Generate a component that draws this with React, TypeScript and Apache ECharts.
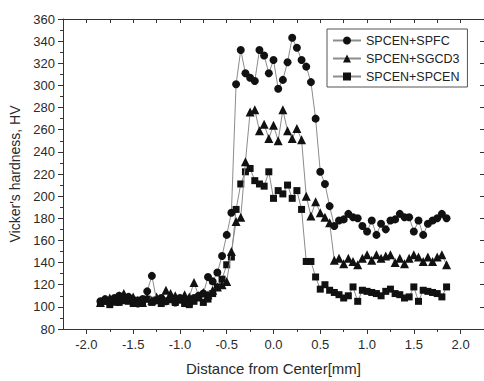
import React, { useEffect, useRef } from "react";
import * as echarts from "echarts";

const xs = [
  -1.85, -1.8, -1.75, -1.7, -1.65, -1.6, -1.55, -1.5, -1.45, -1.4,
  -1.35, -1.3, -1.25, -1.2, -1.15, -1.1, -1.05, -1.0, -0.95, -0.9,
  -0.85, -0.8, -0.75, -0.7, -0.65, -0.6, -0.55, -0.5, -0.45, -0.4,
  -0.35, -0.3, -0.25, -0.2, -0.15, -0.1, -0.05, 0.0, 0.05, 0.1,
  0.15, 0.2, 0.25, 0.3, 0.35, 0.4, 0.45, 0.5, 0.55, 0.6,
  0.65, 0.7, 0.75, 0.8, 0.85, 0.9, 0.95, 1.0, 1.05, 1.1,
  1.15, 1.2, 1.25, 1.3, 1.35, 1.4, 1.45, 1.5, 1.55, 1.6,
  1.65, 1.7, 1.75, 1.8, 1.85,
];

const spfc = [
  105, 107, 104, 108, 110, 106, 109, 105, 103, 107,
  114, 128, 106, 108, 105, 107, 104, 108, 106, 103,
  108, 110, 112, 127, 123, 131, 146, 165, 185, 301,
  332, 311, 307, 304, 332, 327, 311, 323, 297, 305,
  321, 343, 334, 323, 317, 303, 270, 222, 211, 191,
  173, 178, 179, 184, 181, 180, 173, 168, 178, 165,
  175, 170, 178, 179, 184, 181, 181, 168, 178, 165,
  175, 178, 180, 184, 180,
];

const sgcd3 = [
  104, 106, 108, 105, 110, 112, 107, 109, 106, 104,
  108, 106, 109, 107, 115, 112, 110, 108, 111, 109,
  122, 110, 113, 111, 115, 118, 120, 123, 150, 177,
  181, 231, 276, 278, 259, 265, 252, 264, 250, 278,
  259, 252, 261, 251, 200, 182, 195, 185, 181, 176,
  142, 144, 139, 144, 141, 138, 144, 147, 142, 147,
  144, 146, 147, 140, 144, 139, 144, 147, 145, 141,
  145, 141, 145, 147, 138,
];

const spcen = [
  103, 105, 102, 106, 104, 108, 105, 103, 106, 104,
  107, 104, 106, 103, 105, 107, 104, 106, 103, 102,
  105, 108, 104, 107, 112, 118, 125, 138, 145, 188,
  211, 222, 225, 214, 211, 209, 222, 198, 205, 202,
  210, 198, 205, 188, 141, 141, 127, 116, 120, 115,
  113, 111, 108, 110, 118, 105, 115, 114, 113, 112,
  110, 114, 116, 112, 111, 108, 109, 118, 105, 115,
  114, 113, 112, 109, 118,
];

const seriesNames = ["SPCEN+SPFC", "SPCEN+SGCD3", "SPCEN+SPCEN"];
const seriesSymbols = ["circle", "triangle", "rect"];
const seriesSizes = [8, 9, 7];

const xMajorTicks = [-2.0, -1.5, -1.0, -0.5, 0.0, 0.5, 1.0, 1.5, 2.0];
const xMinorTicks = [-1.75, -1.25, -0.75, -0.25, 0.25, 0.75, 1.25, 1.75];

const FONT = "'Liberation Sans', Arial, sans-serif";
const TEXT = "#2a2a2a";

export default function App() {
  const ref = useRef<HTMLDivElement>(null);

  useEffect(() => {
    document.body.style.margin = "0";
    if (!ref.current) return;
    const chart = echarts.init(ref.current, undefined, { renderer: "svg" });
    const values = [spfc, sgcd3, spcen];

    const axisLine = { show: true, onZero: false, lineStyle: { color: "#333", width: 1 } };

    chart.setOption({
      animation: false,
      backgroundColor: "#fff",
      textStyle: { fontFamily: FONT },
      grid: { left: 63, top: 19, right: -2, bottom: 49, containLabel: false },
      legend: {
        orient: "vertical",
        left: 327,
        top: 29,
        itemWidth: 28,
        itemHeight: 10,
        itemGap: 5,
        padding: [5, 8, 4, 5],
        borderColor: "#555",
        borderWidth: 1,
        backgroundColor: "#fff",
        textStyle: { fontSize: 12.5, color: "#222", fontFamily: FONT },
        data: seriesNames,
      },
      xAxis: [
        {
          type: "value",
          position: "bottom",
          min: -2.25,
          max: 2.25,
          interval: 0.25,
          axisLine,
          axisTick: {
            show: true,
            inside: false,
            length: 5,
            customValues: xMajorTicks,
            lineStyle: { color: "#333" },
          },
          axisLabel: {
            show: true,
            customValues: xMajorTicks,
            formatter: (v: number) => v.toFixed(1),
            fontSize: 13,
            color: TEXT,
            margin: 9,
            fontFamily: FONT,
          },
          splitLine: { show: false },
          name: "Distance from Center[mm]",
          nameLocation: "middle",
          nameGap: 32,
          nameTextStyle: { fontSize: 15, color: TEXT, fontFamily: FONT },
        },
        {
          type: "value",
          position: "bottom",
          min: -2.25,
          max: 2.25,
          interval: 0.25,
          axisLine: { show: false, onZero: false },
          axisTick: {
            show: true,
            inside: false,
            length: 3,
            customValues: xMinorTicks,
            lineStyle: { color: "#333" },
          },
          axisLabel: { show: false },
          splitLine: { show: false },
        },
        {
          type: "value",
          position: "top",
          min: -2.25,
          max: 2.25,
          interval: 0.25,
          axisLine,
          axisTick: { show: true, inside: true, length: 4, lineStyle: { color: "#333" } },
          axisLabel: { show: false },
          splitLine: { show: false },
        },
      ],
      yAxis: [
        {
          type: "value",
          position: "left",
          min: 80,
          max: 360,
          interval: 20,
          axisLine,
          axisTick: { show: true, inside: false, length: 5, lineStyle: { color: "#333" } },
          minorTick: { show: true, splitNumber: 2, length: 3, lineStyle: { color: "#333" } },
          axisLabel: { fontSize: 13, color: TEXT, margin: 8, fontFamily: FONT },
          splitLine: { show: false },
          minorSplitLine: { show: false },
          name: "Vicker's hardness, HV",
          nameLocation: "middle",
          nameGap: 38,
          nameTextStyle: { fontSize: 14, color: TEXT, fontFamily: FONT },
        },
        {
          type: "value",
          position: "right",
          min: 80,
          max: 360,
          interval: 20,
          axisLine,
          axisTick: { show: true, inside: true, length: 4, lineStyle: { color: "#333" } },
          axisLabel: { show: false },
          splitLine: { show: false },
        },
      ],
      series: values.map((vals, k) => ({
        name: seriesNames[k],
        type: "line",
        xAxisIndex: 0,
        yAxisIndex: 0,
        data: xs.map((x, i) => [x, vals[i]]),
        symbol: seriesSymbols[k],
        symbolSize: seriesSizes[k],
        showAllSymbol: true,
        itemStyle: { color: "#111" },
        lineStyle: { color: "#8c8c8c", width: 1 },
        z: 3 - k,
      })),
    });

    return () => chart.dispose();
  }, []);

  return <div ref={ref} style={{ width: 484, height: 381 }} />;
}
